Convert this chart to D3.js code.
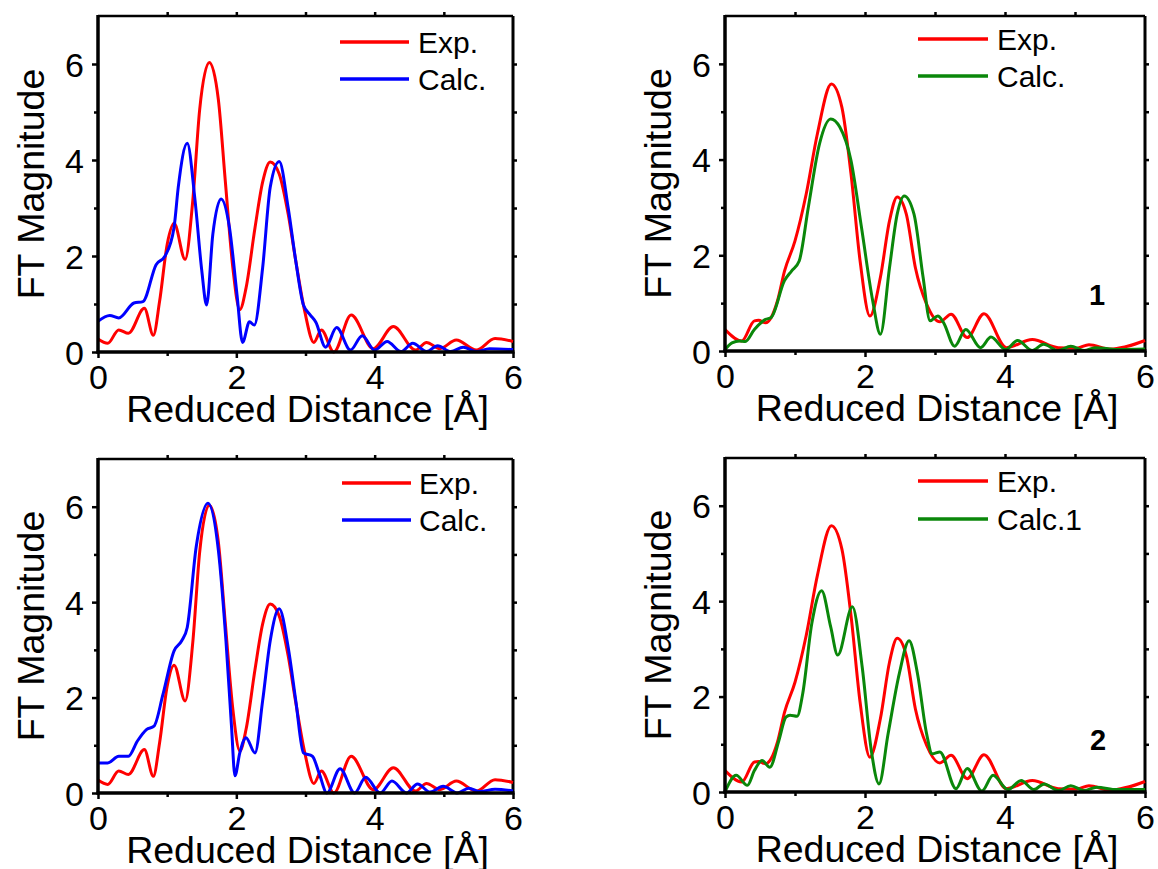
<!DOCTYPE html>
<html><head><meta charset="utf-8">
<script src="https://cdn.jsdelivr.net/npm/d3@7"></script>
<style>
html,body{margin:0;padding:0;background:#fff;}
svg{display:block;font-family:"Liberation Sans",Arial,sans-serif;}
</style></head>
<body>
<svg id="chart" width="1158" height="869"></svg>
<script>
// ---- data ----
const xTicks = [0, 2, 4, 6];
const yTicks = [0, 2, 4, 6];
const xLabel = "Reduced Distance [Å]";
const yLabel = "FT Magnitude";

// Experimental (panels top-left & bottom-left)
const expAX = [0, 0.14, 0.30, 0.44, 0.67, 0.80, 0.89, 1.00, 1.10, 1.26, 1.37, 1.47, 1.61, 1.74, 1.84, 1.95, 2.05, 2.14, 2.27, 2.38, 2.49, 2.62, 2.75, 2.86, 2.99, 3.12, 3.23, 3.41, 3.66, 3.98, 4.27, 4.59, 4.75, 4.94, 5.18, 5.47, 5.74, 6.00];
const expAY = [0.27, 0.18, 0.46, 0.39, 0.91, 0.35, 1.05, 2.24, 2.68, 1.93, 3.15, 5.05, 6.03, 5.26, 3.57, 1.75, 0.88, 1.33, 2.59, 3.54, 3.96, 3.71, 2.87, 1.89, 0.84, 0.20, 0.46, 0.00, 0.77, 0.07, 0.53, 0.04, 0.20, 0.07, 0.25, 0.04, 0.28, 0.22];

// Calc (top-left, blue)
const calcAX = [0, 0.17, 0.30, 0.52, 0.65, 0.84, 0.97, 1.10, 1.16, 1.29, 1.40, 1.50, 1.57, 1.66, 1.78, 1.90, 2.01, 2.09, 2.19, 2.26, 2.38, 2.49, 2.62, 2.75, 2.86, 2.97, 3.07, 3.15, 3.29, 3.45, 3.65, 3.82, 4.00, 4.18, 4.38, 4.55, 4.75, 4.91, 5.10, 5.28, 5.47, 5.66, 6.00];
const calcAY = [0.64, 0.76, 0.71, 1.02, 1.05, 1.82, 2.00, 2.60, 3.43, 4.35, 3.20, 1.70, 0.98, 2.45, 3.19, 2.60, 1.19, 0.20, 0.63, 0.56, 1.75, 3.43, 3.97, 3.00, 1.89, 0.98, 0.77, 0.62, 0.10, 0.51, 0.04, 0.34, 0.04, 0.22, 0.01, 0.18, 0.01, 0.13, 0.01, 0.10, 0.01, 0.07, 0.05];

// Experimental (panels top-right & bottom-right)
const expBX = [0, 0.24, 0.42, 0.48, 0.58, 0.66, 0.75, 0.85, 1.00, 1.16, 1.32, 1.52, 1.67, 1.80, 1.93, 2.07, 2.22, 2.35, 2.46, 2.59, 2.72, 2.88, 3.07, 3.23, 3.46, 3.70, 4.02, 4.39, 4.76, 5.02, 5.20, 5.50, 6.00];
const expBY = [0.45, 0.21, 0.63, 0.64, 0.59, 0.70, 1.05, 1.67, 2.30, 3.28, 4.54, 5.58, 5.09, 3.70, 1.88, 0.73, 1.54, 2.72, 3.22, 2.86, 1.74, 0.98, 0.61, 0.77, 0.28, 0.78, 0.07, 0.24, 0.07, 0.06, 0.13, 0.04, 0.22];

// Calc (top-right, green)
const calcBX = [0, 0.10, 0.21, 0.29, 0.42, 0.58, 0.66, 0.85, 0.95, 1.06, 1.19, 1.35, 1.51, 1.64, 1.80, 1.95, 2.11, 2.22, 2.35, 2.46, 2.56, 2.70, 2.83, 2.93, 3.04, 3.12, 3.28, 3.44, 3.65, 3.80, 4.01, 4.18, 4.39, 4.55, 4.76, 4.94, 5.13, 5.29, 5.60, 6.00];
const calcBY = [0.03, 0.17, 0.21, 0.20, 0.45, 0.66, 0.70, 1.47, 1.67, 1.88, 3.00, 4.33, 4.85, 4.68, 3.98, 2.58, 1.05, 0.35, 1.74, 2.86, 3.24, 2.86, 1.54, 0.63, 0.73, 0.60, 0.10, 0.45, 0.07, 0.29, 0.03, 0.22, 0.01, 0.14, 0.01, 0.10, 0.01, 0.07, 0.03, 0.04];

// Calc (bottom-left, blue)
const calcCX = [0, 0.14, 0.30, 0.44, 0.57, 0.70, 0.81, 0.94, 1.10, 1.21, 1.29, 1.42, 1.59, 1.74, 1.85, 1.93, 1.98, 2.05, 2.14, 2.27, 2.38, 2.49, 2.62, 2.75, 2.86, 2.97, 3.10, 3.20, 3.31, 3.50, 3.71, 3.87, 4.08, 4.25, 4.46, 4.62, 4.80, 4.99, 5.20, 5.36, 5.52, 5.74, 6.00];
const calcCY = [0.63, 0.63, 0.77, 0.77, 1.09, 1.33, 1.40, 2.07, 2.98, 3.19, 3.47, 5.16, 6.07, 5.09, 3.19, 1.40, 0.36, 0.84, 1.16, 0.84, 1.93, 3.19, 3.86, 3.05, 1.93, 0.84, 0.77, 0.40, 0.00, 0.51, 0.00, 0.33, 0.00, 0.25, 0.00, 0.19, 0.02, 0.14, 0.00, 0.10, 0.03, 0.08, 0.04];

// Calc.1 (bottom-right, green)
const calcDX = [0, 0.16, 0.32, 0.42, 0.53, 0.64, 0.77, 0.87, 0.93, 1.03, 1.11, 1.24, 1.38, 1.51, 1.61, 1.82, 1.96, 2.09, 2.20, 2.33, 2.49, 2.63, 2.75, 2.88, 2.96, 3.07, 3.30, 3.46, 3.67, 3.83, 4.04, 4.23, 4.41, 4.56, 4.76, 4.94, 5.13, 5.31, 5.60, 6.00];
const calcDY = [0.00, 0.35, 0.14, 0.45, 0.66, 0.52, 1.08, 1.57, 1.61, 1.59, 2.06, 3.53, 4.22, 3.46, 2.87, 3.88, 2.62, 0.87, 0.17, 1.22, 2.48, 3.17, 2.48, 1.22, 0.80, 0.84, 0.07, 0.49, 0.02, 0.35, 0.05, 0.24, 0.05, 0.17, 0.03, 0.13, 0.03, 0.10, 0.05, 0.05];

const legendNames = [["Exp.", "Calc."], ["Exp.", "Calc."], ["Exp.", "Calc."], ["Exp.", "Calc.1"]];
const panelTags = ["", "1", "", "2"];

// ---- layout ----
const RED = "#ff0000", BLUE = "#0000ff", GREEN = "#0a870a";
const panels = [
  {l: 98,  r: 513,  t: 16,  b: 352, exp: [expAX, expAY], calc: [calcAX, calcAY], col: BLUE,  leg: {x1: 340, x2: 409, tx: 418, y1: 42, y2: 79}},
  {l: 725, r: 1145, t: 16,  b: 351, exp: [expBX, expBY], calc: [calcBX, calcBY], col: GREEN, leg: {x1: 918, x2: 988, tx: 997, y1: 39, y2: 76}, tag: {x: 1097, y: 305}},
  {l: 98,  r: 513,  t: 459, b: 793, exp: [expAX, expAY], calc: [calcCX, calcCY], col: BLUE,  leg: {x1: 342, x2: 411, tx: 419, y1: 483, y2: 520}},
  {l: 725, r: 1145, t: 458, b: 792, exp: [expBX, expBY], calc: [calcDX, calcDY], col: GREEN, leg: {x1: 918, x2: 988, tx: 997, y1: 481, y2: 519}, tag: {x: 1098, y: 750}}
];

const svg = d3.select("#chart");
svg.append("rect").attr("width", 1158).attr("height", 869).attr("fill", "#fff");

panels.forEach((p, i) => {
  const x = d3.scaleLinear().domain([0, 6]).range([p.l, p.r]);
  const y = d3.scaleLinear().domain([0, 7]).range([p.b, p.t]);
  const g = svg.append("g");

  const tickStyle = sel => {
    sel.select(".domain").remove();
    sel.selectAll(".tick line").attr("stroke", "#000").attr("stroke-width", 2.5);
  };
  g.append("g").attr("transform", `translate(${p.l},0)`)
    .call(d3.axisLeft(y).tickValues(yTicks).tickSize(6).tickPadding(8).tickFormat(d3.format("d")))
    .call(tickStyle)
    .selectAll("text").attr("font-size", 34).attr("fill", "#000").attr("font-family", "Liberation Sans, Arial, sans-serif").attr("dy", "0.36em");
  g.append("g").attr("transform", `translate(${p.l},0)`)
    .call(d3.axisLeft(y).tickValues([1, 3, 5]).tickSize(4).tickFormat(""))
    .call(tickStyle);
  g.append("g").attr("transform", `translate(0,${p.b})`)
    .call(d3.axisBottom(x).tickValues(xTicks).tickSize(6).tickPadding(7).tickFormat(d3.format("d")))
    .call(tickStyle)
    .selectAll("text").attr("font-size", 34).attr("fill", "#000").attr("font-family", "Liberation Sans, Arial, sans-serif").attr("dy", "0.72em");
  g.append("g").attr("transform", `translate(0,${p.b})`)
    .call(d3.axisBottom(x).tickValues([1, 3, 5]).tickSize(4).tickFormat(""))
    .call(tickStyle);
  g.append("g").attr("transform", `translate(${p.r},0)`)
    .call(d3.axisRight(y).tickValues([1, 2, 3, 4, 5, 6]).tickSize(4).tickFormat(""))
    .call(tickStyle);
  g.append("g").attr("transform", `translate(0,${p.t})`)
    .call(d3.axisTop(x).tickValues([1, 2, 3, 4, 5]).tickSize(4).tickFormat(""))
    .call(tickStyle);

  // frame
  g.append("line").attr("x1", p.l).attr("x2", p.r).attr("y1", p.t).attr("y2", p.t).attr("stroke", "#000").attr("stroke-width", 2.5);
  g.append("line").attr("x1", p.r).attr("x2", p.r).attr("y1", p.t).attr("y2", p.b).attr("stroke", "#000").attr("stroke-width", 3);

  // curves
  const line = d3.line().x(d => x(d[0])).y(d => y(d[1])).curve(d3.curveMonotoneX);
  const toPts = (xs, ys) => xs.map((v, k) => [v, ys[k]]);
  g.append("path").attr("d", line(toPts(p.exp[0], p.exp[1])))
    .attr("fill", "none").attr("stroke", RED).attr("stroke-width", 3).attr("stroke-linejoin", "round");
  g.append("path").attr("d", line(toPts(p.calc[0], p.calc[1])))
    .attr("fill", "none").attr("stroke", p.col).attr("stroke-width", 3).attr("stroke-linejoin", "round");

  // left/bottom axis lines on top
  g.append("line").attr("x1", p.l).attr("x2", p.l).attr("y1", p.t - 1).attr("y2", p.b + 1.5).attr("stroke", "#000").attr("stroke-width", 3.5);
  g.append("line").attr("x1", p.l - 1.5).attr("x2", p.r + 1.5).attr("y1", p.b).attr("y2", p.b).attr("stroke", "#000").attr("stroke-width", 3.5);

  // titles
  g.append("text").attr("x", (p.l + p.r) / 2 + 2).attr("y", p.b + 70)
    .attr("text-anchor", "middle").attr("font-size", 37.5).attr("fill", "#000").text(xLabel);
  g.append("text").attr("transform", `translate(${p.l - 54},${(p.t + p.b) / 2}) rotate(-90)`)
    .attr("text-anchor", "middle").attr("font-size", 37.5).attr("fill", "#000").text(yLabel);

  // legend
  const L = p.leg;
  [[L.y1, RED, legendNames[i][0]], [L.y2, p.col, legendNames[i][1]]].forEach(([ly, c, name]) => {
    g.append("line").attr("x1", L.x1).attr("x2", L.x2).attr("y1", ly).attr("y2", ly).attr("stroke", c).attr("stroke-width", 3.5);
    g.append("text").attr("x", L.tx).attr("y", ly + 10.5).attr("font-size", 30).attr("fill", "#000").text(name);
  });

  if (p.tag) {
    g.append("text").attr("x", p.tag.x).attr("y", p.tag.y).attr("text-anchor", "middle")
      .attr("font-size", 29).attr("font-weight", "bold").attr("fill", "#000").text(panelTags[i]);
  }
});
</script>
</body></html>
